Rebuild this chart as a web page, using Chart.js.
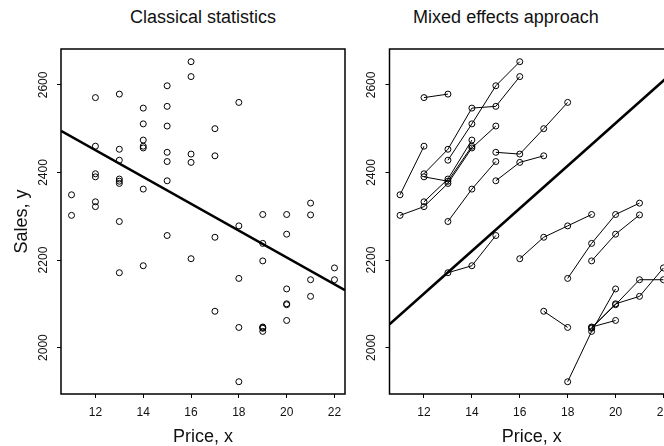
<!DOCTYPE html>
<html>
<head>
<meta charset="utf-8">
<script src="https://cdn.jsdelivr.net/npm/chart.js@4"></script>
<style>
  html, body { margin: 0; padding: 0; background: #fff; overflow: hidden; }
  body { width: 664px; height: 446px; position: relative; }
  canvas { position: absolute; top: 0; }
  #left { left: 0; }
  #right { left: 339px; }
  .title {
    position: absolute; top: 7px; line-height: 20px;
    font-family: "Liberation Sans", Arial, sans-serif; font-size: 18px;
    color: #111; white-space: nowrap; transform: translateX(-50%);
  }
</style>
</head>
<body>
<div class="title" style="left:203px">Classical statistics</div>
<div class="title" style="left:506px">Mixed effects approach</div>
<canvas id="left" width="350" height="446"></canvas>
<canvas id="right" width="340" height="446"></canvas>
<script>
const xTicks = [12, 14, 16, 18, 20, 22];
const yTicks = [2000, 2200, 2400, 2600];

// one entry per observation: which store, price charged, sales
const store = [
  1, 1,
  2, 2,
  3, 3, 3, 3,
  4, 4, 4, 4, 4,
  5, 5, 5, 5, 5,
  6, 6, 6,
  7, 7, 7,
  8, 8, 8,
  9, 9, 9,
  10, 10, 10,
  11, 11, 11, 11,
  12, 12, 12, 12,
  13, 13, 13, 13,
  14, 14, 14,
  15, 15,
  16, 16, 16,
  17, 17, 17, 17,
  18, 18, 18, 18,
  19, 19
];
const price = [
  12, 13,
  11, 12,
  13, 14, 15, 16,
  12, 13, 14, 15, 16,
  11, 12, 13, 14, 15,
  12, 13, 14,
  12, 13, 14,
  13, 14, 15,
  13, 14, 15,
  15, 16, 17,
  15, 16, 17, 18,
  16, 17, 18, 19,
  18, 19, 20, 21,
  19, 20, 21,
  17, 18,
  18, 19, 20,
  19, 20, 21, 22,
  19, 20, 21, 22,
  19, 20
];
const sales = [
  2571, 2579,
  2349, 2460,
  2428, 2511, 2598, 2653,
  2397, 2453, 2547, 2551, 2619,
  2302, 2322, 2375, 2456, 2506,
  2333, 2385, 2474,
  2390, 2380, 2460,
  2288, 2362, 2425,
  2171, 2187, 2256,
  2381, 2423, 2438,
  2446, 2442, 2500, 2560,
  2203, 2252, 2278, 2304,
  2158, 2238, 2304, 2330,
  2198, 2259, 2303,
  2083, 2046,
  1922, 2037, 2134,
  2046, 2098, 2155, 2155,
  2044, 2100, 2117, 2182,
  2047, 2062
];

// fitted lines, read at the two ends of the price axis
const fitX = [10.56, 22.44];
const classicalFit = [2495, 2131];
const mixedFit = [2053, 2631];

const tickFont = { family: "'Liberation Sans', Arial, sans-serif", size: 12 };
const labelFont = { family: "'Liberation Sans', Arial, sans-serif", size: 18, lineHeight: 1 };
const ink = "#111";

const points = price.map((p, i) => ({ x: p, y: sales[i] }));

function fitLine(ys) {
  return {
    data: fitX.map((x, i) => ({ x: x, y: ys[i] })),
    showLine: true,
    borderColor: "#000",
    borderWidth: 2.6,
    pointRadius: 0,
  };
}

// R style box round the plotting region
const boxPlugin = {
  id: "box",
  afterDraw(chart) {
    const { ctx, chartArea: a } = chart;
    ctx.save();
    ctx.strokeStyle = "#000";
    ctx.lineWidth = 1.5;
    ctx.strokeRect(a.left, a.top, a.right - a.left, a.bottom - a.top);
    ctx.restore();
  },
};

function scales(yTitle, yWidth) {
  return {
    x: {
      type: "linear",
      min: fitX[0],
      max: fitX[1],
      afterBuildTicks: (s) => { s.ticks = xTicks.map((v) => ({ value: v })); },
      afterFit: (s) => { s.height = 52; },
      grid: { drawOnChartArea: false, tickLength: 4, color: "#000" },
      border: { display: false },
      ticks: { color: ink, font: tickFont, padding: 7, maxRotation: 0, callback: (v) => String(v) },
      title: { display: true, text: "Price, x", color: ink, font: labelFont, padding: 0 },
    },
    y: {
      type: "linear",
      min: 1894,
      max: 2682,
      afterBuildTicks: (s) => { s.ticks = yTicks.map((v) => ({ value: v })); },
      afterFit: (s) => { s.width = yWidth; },
      grid: { drawOnChartArea: false, tickLength: 4, color: "#000" },
      border: { display: false },
      ticks: {
        color: ink, font: tickFont, padding: 0, minRotation: 90, maxRotation: 90,
        crossAlign: "center", callback: (v) => String(v),
      },
      title: { display: !!yTitle, text: yTitle, color: ink, font: labelFont, padding: { top: 13, bottom: 0 } },
    },
  };
}

function baseOptions(yTitle, yWidth, rightPad) {
  return {
    responsive: false,
    animation: false,
    events: [],
    layout: { padding: { top: 49, right: rightPad, bottom: 0, left: 0 } },
    plugins: { legend: { display: false }, tooltip: { enabled: false } },
    scales: scales(yTitle, yWidth),
  };
}

new Chart(document.getElementById("left"), {
  type: "scatter",
  data: {
    datasets: [
      {
        data: points,
        pointRadius: 3,
        pointBorderWidth: 1,
        pointBorderColor: "#000",
        pointBackgroundColor: "rgba(0,0,0,0)",
      },
      fitLine(classicalFit),
    ],
  },
  options: baseOptions("Sales, y", 61, 2),
  plugins: [boxPlugin],
});

const storeIds = [...new Set(store)];
const storeSets = storeIds.map((id) => ({
  data: points.filter((p, i) => store[i] === id),
  showLine: true,
  borderColor: "#000",
  borderWidth: 1,
  pointRadius: 3,
  pointBorderWidth: 1,
  pointBorderColor: "#000",
  pointBackgroundColor: "rgba(0,0,0,0)",
}));

new Chart(document.getElementById("right"), {
  type: "scatter",
  data: { datasets: storeSets.concat([fitLine(mixedFit)]) },
  options: baseOptions("", 50.5, 4.4),
  plugins: [boxPlugin],
});
</script>
</body>
</html>
